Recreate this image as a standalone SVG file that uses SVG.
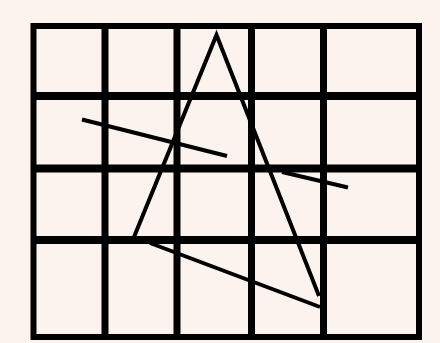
<svg xmlns="http://www.w3.org/2000/svg" width="440" height="343" viewBox="0 0 440 343">
<style>
.grid{stroke:#000;stroke-width:7;fill:none}
.border{stroke:#000;stroke-width:6;fill:none}
.ln{stroke:#000;stroke-width:4;fill:none;stroke-linecap:butt}
</style>
<rect width="440" height="343" fill="#fdf3ee"/>
<g id="grid">
<rect class="border" x="33.5" y="26" width="385.5" height="311"/>
<line class="grid" x1="105" y1="26" x2="105" y2="337"/>
<line class="grid" x1="177" y1="26" x2="177" y2="337"/>
<line class="grid" x1="251.5" y1="26" x2="251.5" y2="337"/>
<line class="grid" x1="323.5" y1="26" x2="323.5" y2="337"/>
<line class="grid" x1="33.5" y1="96" x2="419" y2="96" style="stroke-width:8"/>
<line class="grid" x1="33.5" y1="168.5" x2="419" y2="168.5" style="stroke-width:8"/>
<line class="grid" x1="33.5" y1="240" x2="419" y2="240" style="stroke-width:8"/>
</g>
<g id="connectors">
<polyline class="ln" points="134,237 216.5,35 319,296" style="stroke-linejoin:miter"/>
<line class="ln" x1="150" y1="243" x2="320" y2="307"/>
<line class="ln" x1="82" y1="119.5" x2="227" y2="156"/>
<line class="ln" x1="282" y1="172" x2="348" y2="187.5"/>
</g>
</svg>
